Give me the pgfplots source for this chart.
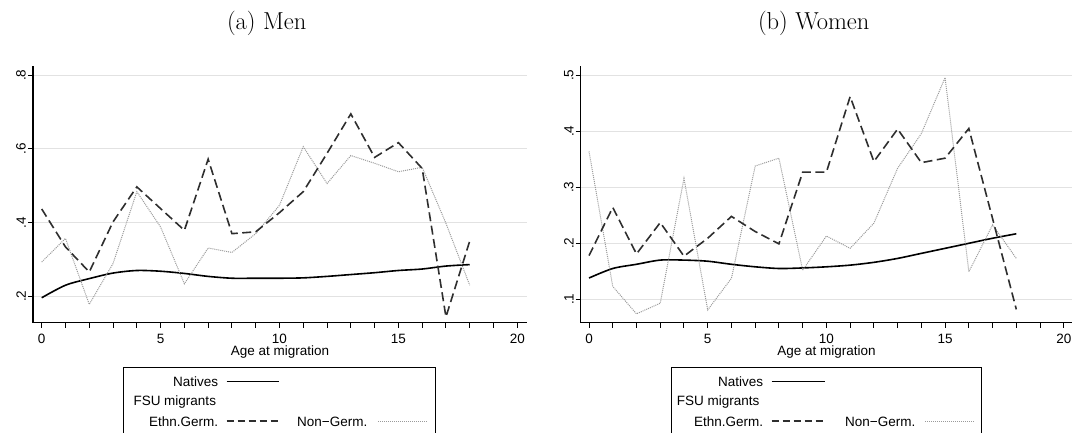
\documentclass[border=0pt]{standalone}
\usepackage{fontspec}
\usepackage{pgfplots}
\pgfplotsset{compat=1.18}
\newfontfamily\arial{Liberation Sans}
\definecolor{gridc}{HTML}{E2E2E2}
\definecolor{dashc}{HTML}{2E2E2E}
\definecolor{dotc}{HTML}{9A9A9A}

\pgfplotsset{
  stataaxis/.style={
    scale only axis,
    anchor=south west,
    axis x line*=bottom,
    axis y line*=left,
    axis line style={line width=1.3pt, black},
    every tick/.style={black, line width=1pt},
    tick align=outside,
    major tick length=5pt,
    minor tick length=5pt,
    xtick={0,5,10,15,20},
    xticklabels={0,5,10,15,20},
    minor xtick={1,2,3,4,6,7,8,9,11,12,13,14,16,17,18,19},
    ymajorgrids,
    major grid style={gridc, line width=1pt},
    tick label style={font=\arial\fontsize{13.5}{15}\selectfont},
    xticklabel style={inner sep=0pt, yshift=-6.5pt},
    yticklabel style={rotate=90, anchor=south, inner sep=2pt},
    xlabel={Age at migration},
    xlabel style={font=\arial\fontsize{13.5}{15}\selectfont, inner sep=0pt,
      at={(axis description cs:0.5,0)}, anchor=center, yshift=-29.5pt},
    clip=false,
  },
  nat/.style={black, line width=1.6pt, smooth, no marks},
  eth/.style={dashc, line width=1.6pt, dash pattern=on 9pt off 4.5pt, no marks},
  non/.style={dotc, line width=1pt, dash pattern=on 1pt off 1pt, no marks},
}
\tikzset{
  legtxt/.style={font=\arial\fontsize{13.5}{15}\selectfont, inner sep=0pt},
}

\begin{document}
\begin{tikzpicture}

% ---------- (a) Men ----------
\begin{axis}[stataaxis,
  at={(33pt,109.3pt)}, width=493.8pt, height=256.7pt,
  xmin=-0.366, xmax=20.4,
  ymin=0.1283, ymax=0.825,
  ytick={0.2,0.4,0.6,0.8}, yticklabels={.2,.4,.6,.8}]
\addplot[nat] coordinates {
(0,0.196)(1,0.230)(2,0.248)(3,0.263)(4,0.270)(5,0.268)(6,0.262)(7,0.254)(8,0.249)(9,0.249)
(10,0.249)(11,0.250)(12,0.254)(13,0.259)(14,0.264)(15,0.270)(16,0.274)(17,0.282)(18,0.286)};
\addplot[non] coordinates {
(0,0.293)(1,0.357)(2,0.178)(3,0.289)(4,0.484)(5,0.388)(6,0.234)(7,0.331)(8,0.319)(9,0.370)
(10,0.447)(11,0.606)(12,0.506)(13,0.582)(14,0.561)(15,0.538)(16,0.550)(17,0.398)(18,0.230)};
\addplot[eth] coordinates {
(0,0.437)(1,0.334)(2,0.266)(3,0.402)(4,0.497)(5,0.438)(6,0.379)(7,0.572)(8,0.370)(9,0.375)
(10,0.427)(11,0.484)(12,0.588)(13,0.695)(14,0.577)(15,0.617)(16,0.547)(17,0.144)(18,0.350)};
\end{axis}

% ---------- (b) Women ----------
\begin{axis}[stataaxis,
  at={(580.7pt,109.3pt)}, width=491.4pt, height=256.7pt,
  xmin=-0.35, xmax=20.35,
  ymin=0.0582, ymax=0.5166,
  ytick={0.1,0.2,0.3,0.4,0.5}, yticklabels={.1,.2,.3,.4,.5}]
\addplot[nat] coordinates {
(0,0.138)(1,0.155)(2,0.1625)(3,0.170)(4,0.170)(5,0.168)(6,0.1625)(7,0.158)(8,0.155)(9,0.156)
(10,0.158)(11,0.161)(12,0.166)(13,0.173)(14,0.182)(15,0.191)(16,0.200)(17,0.209)(18,0.217)};
\addplot[non] coordinates {
(0,0.364)(1,0.123)(2,0.074)(3,0.093)(4,0.316)(5,0.081)(6,0.1375)(7,0.338)(8,0.352)(9,0.152)
(10,0.213)(11,0.191)(12,0.236)(13,0.334)(14,0.396)(15,0.496)(16,0.149)(17,0.233)(18,0.173)};
\addplot[eth] coordinates {
(0,0.178)(1,0.264)(2,0.181)(3,0.237)(4,0.177)(5,0.209)(6,0.248)(7,0.221)(8,0.199)(9,0.327)
(10,0.327)(11,0.462)(12,0.346)(13,0.404)(14,0.344)(15,0.352)(16,0.405)(17,0.244)(18,0.082)};
\end{axis}

% ---------- titles ----------
\node[font=\fontsize{24.5}{29}\selectfont] at (266.7pt,409pt) {(a) Men};
\node[font=\fontsize{24.5}{29}\selectfont] at (813.7pt,409pt) {(b) Women};

% ---------- legend (a) ----------
\draw[black, line width=1pt] (123.3pt,-20pt) rectangle (435pt,64.7pt);
\node[legtxt, anchor=east] at (218.3pt,50pt) {Natives};
\draw[black, line width=1.3pt] (226.7pt,50.5pt) -- (279.3pt,50.5pt);
\node[legtxt, anchor=west] at (133.3pt,30.3pt) {FSU migrants};
\node[legtxt, anchor=east] at (218.3pt,10.5pt) {Ethn.Germ.};
\draw[dashc, line width=1.3pt, dash pattern=on 7pt off 4pt] (226.7pt,11pt) -- (280pt,11pt);
\node[legtxt, anchor=west] at (297pt,10.5pt) {Non−Germ.};
\draw[dotc, line width=0.9pt, dash pattern=on 1pt off 1pt] (378pt,11pt) -- (428pt,11pt);

% ---------- legend (b) ----------
\draw[black, line width=1pt] (671.7pt,-20pt) rectangle (981.7pt,64.7pt);
\node[legtxt, anchor=east] at (763.3pt,50pt) {Natives};
\draw[black, line width=1.3pt] (771.7pt,50.5pt) -- (825pt,50.5pt);
\node[legtxt, anchor=west] at (676.7pt,30.3pt) {FSU migrants};
\node[legtxt, anchor=east] at (763.3pt,10.5pt) {Ethn.Germ.};
\draw[dashc, line width=1.3pt, dash pattern=on 7pt off 4pt] (771.7pt,11pt) -- (825pt,11pt);
\node[legtxt, anchor=west] at (845pt,10.5pt) {Non−Germ.};
\draw[dotc, line width=0.9pt, dash pattern=on 1pt off 1pt] (925pt,11pt) -- (975pt,11pt);

\pgfresetboundingbox
\path[use as bounding box] (0pt,0pt) rectangle (1073pt,432pt);
\end{tikzpicture}
\end{document}
